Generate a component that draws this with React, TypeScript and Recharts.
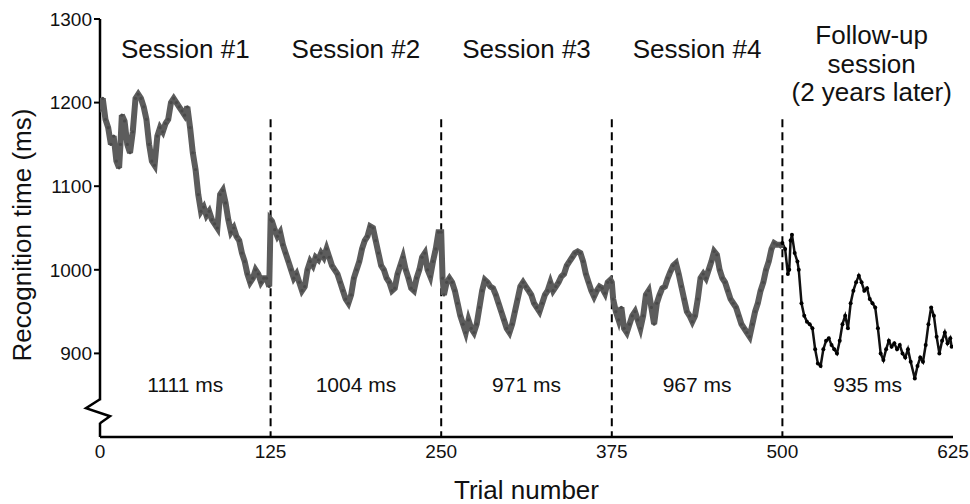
import React from 'react';
import { LineChart, Line, XAxis, YAxis, ReferenceLine, ReferenceDot } from 'recharts';

const FONT = '"Liberation Sans", Arial, Helvetica, sans-serif';

// Sessions 1-4 (trials 0-500)
const mainTrials = [
  0, 2, 4, 6, 8, 10, 12, 14, 15, 16, 18, 20, 22, 24, 26, 28, 30, 32, 34, 36, 38, 40, 42, 44, 46, 48, 50, 52, 54, 56, 58, 60, 62, 64, 66, 68, 70, 72, 74, 76, 78, 80, 82, 84, 86, 88, 90, 92, 94, 96, 98, 100, 102, 104, 106, 108, 110, 112, 114, 116, 118, 120, 122, 124, 125,
  126, 128, 130, 132, 134, 136, 138, 140, 142, 144, 146, 148, 150, 152, 154, 156, 158, 160, 162, 164, 166, 168, 170, 172, 174, 176, 178, 180, 182, 184, 186, 188, 190, 192, 194, 196, 198, 200, 202, 204, 206, 208, 210, 212, 214, 216, 218, 220, 222, 224, 226, 228, 230, 232, 234, 236, 238, 240, 242, 244, 246, 248, 250,
  251, 252, 254, 256, 258, 260, 262, 264, 266, 268, 270, 272, 274, 276, 278, 280, 282, 284, 286, 288, 290, 292, 294, 296, 298, 300, 302, 304, 306, 308, 310, 312, 314, 316, 318, 320, 322, 324, 326, 328, 330, 332, 334, 336, 338, 340, 342, 344, 346, 348, 350, 352, 354, 356, 358, 360, 362, 364, 366, 368, 370, 372, 374,
  375, 376, 378, 380, 382, 384, 386, 388, 390, 392, 394, 396, 398, 400, 402, 404, 406, 408, 410, 412, 414, 416, 418, 420, 422, 424, 426, 428, 430, 432, 434, 436, 438, 440, 442, 444, 446, 448, 450, 452, 454, 456, 458, 460, 462, 464, 466, 468, 470, 472, 474, 476, 478, 480, 482, 484, 486, 488, 490, 492, 494, 496, 498, 500,
];
const mainValues = [
  1190, 1205, 1180, 1170, 1150, 1160, 1130, 1122, 1150, 1185, 1178, 1150, 1140, 1165, 1205, 1210, 1205, 1195, 1180, 1150, 1130, 1125, 1160, 1170, 1165, 1175, 1180, 1200, 1205, 1200, 1195, 1190, 1185, 1195, 1170, 1140, 1120, 1090, 1070, 1075, 1065, 1070, 1060, 1055, 1050, 1090, 1095, 1080, 1060, 1045, 1050, 1040, 1035, 1020, 1010, 995, 985, 990, 1000, 995, 985, 990, 990, 980, 1060,
  1058, 1048, 1040, 1045, 1030, 1020, 1010, 1000, 990, 995, 985, 975, 980, 1000, 1010, 1005, 1015, 1012, 1020, 1015, 1025, 1015, 1005, 1000, 995, 985, 975, 965, 960, 970, 990, 1000, 1010, 1025, 1035, 1040, 1052, 1050, 1035, 1020, 1005, 1000, 990, 985, 975, 978, 995, 1005, 1015, 1000, 990, 978, 975, 990, 1000, 1015, 1020, 1000, 992, 1010, 1025, 1045, 1045,
  990, 970, 985, 990, 985, 975, 960, 945, 935, 925, 940, 930, 925, 935, 955, 975, 988, 985, 980, 978, 970, 960, 950, 940, 930, 925, 935, 950, 965, 980, 985, 980, 975, 970, 960, 955, 950, 960, 970, 975, 985, 975, 980, 985, 992, 995, 1005, 1010, 1015, 1020, 1022, 1020, 1010, 995, 985, 975, 968, 975, 980, 978, 972, 985, 988,
  985, 965, 950, 940, 955, 930, 925, 935, 945, 950, 940, 930, 945, 970, 975, 955, 935, 960, 970, 978, 980, 990, 998, 1005, 1008, 995, 980, 965, 950, 945, 938, 945, 965, 990, 995, 990, 1000, 1010, 1022, 1018, 1000, 990, 985, 975, 965, 960, 955, 945, 935, 930, 925, 920, 935, 950, 960, 975, 985, 1000, 1010, 1025, 1032, 1030, 1030, 1028,
];

// Follow-up session (trials 500-625)
const followTrials = [
  500, 502, 504, 505, 506, 507, 509, 511, 512, 514, 516, 518, 520, 522, 524, 526, 528, 530, 532, 534, 536, 538, 540, 542, 544, 546, 548, 550, 552, 554, 556, 558, 560, 562, 564, 566, 568, 570, 572, 574, 576, 578, 580, 582, 584, 586, 588, 590, 592, 594, 597, 599, 601, 603, 605, 607, 609, 611, 613, 615, 617, 619, 621, 623, 624,
];
const followValues = [
  1032, 1025, 995, 1000, 1035, 1042, 1020, 1010, 1000, 960, 945, 938, 935, 930, 905, 888, 885, 905, 915, 918, 910, 905, 900, 915, 935, 945, 930, 960, 975, 985, 993, 985, 975, 978, 965, 960, 955, 930, 900, 892, 905, 915, 908, 912, 905, 910, 900, 895, 905, 890, 870, 885, 895, 890, 910, 935, 955, 945, 920, 900, 915, 925, 912, 918, 908,
];

const xTicks = [0, 125, 250, 375, 500, 625];
const yTicks = [900, 1000, 1100, 1200, 1300];
const sessionBounds = [125, 250, 375, 500];
const sessionCenters = [62.5, 187.5, 312.5, 437.5, 562.5];
const sessionNames = ['Session #1', 'Session #2', 'Session #3', 'Session #4'];
const sessionMeans = ['1111 ms', '1004 ms', '971 ms', '967 ms', '935 ms'];
const followUpLines = ['Follow-up', 'session', '(2 years later)'];

const mainData = mainTrials.map((t, i) => ({ trial: t, rt: mainValues[i] }));
const followData = followTrials.map((t, i) => ({ trial: t, rt: followValues[i] }));

const SESSION_LABEL_Y = 1253;
const FOLLOW_LABEL_Y = 1270;
const MEAN_LABEL_Y = 854;
const DASH_TOP = 1180;
const BREAK_Y = 832;

export default function App() {
  return (
    <div style={{ position: 'absolute', left: 0, top: 0, width: 970, height: 504, background: '#fff' }}>
      <LineChart
        width={970}
        height={504}
        margin={{ top: 19, right: 17, bottom: 0, left: 0 }}
        style={{ fontFamily: FONT }}
      >
        <XAxis
          type="number"
          dataKey="trial"
          domain={[0, 625]}
          ticks={xTicks}
          allowDataOverflow
          height={67}
          axisLine={{ stroke: '#000', strokeWidth: 2.5 }}
          tickLine={false}
          tickSize={6}
          tickMargin={2}
          tick={{ fill: '#111', fontSize: 19, fontFamily: FONT }}
          label={{
            content: (p: any) => {
              const vb = p.viewBox || {};
              return (
                <text x={vb.x + vb.width / 2} y={499} textAnchor="middle" fontSize={26} fill="#111" fontFamily={FONT}>
                  Trial number
                </text>
              );
            },
          }}
        />
        <YAxis
          type="number"
          domain={[800, 1300]}
          ticks={yTicks}
          width={100}
          allowDataOverflow
          axisLine={false}
          tickLine={{ stroke: '#000', strokeWidth: 2 }}
          tickSize={6}
          tickMargin={2}
          tick={{ fill: '#111', fontSize: 19, fontFamily: FONT }}
          label={{
            content: () => (
              <text
                x={31}
                y={235}
                transform="rotate(-90, 31, 235)"
                textAnchor="middle"
                fontSize={26}
                fill="#111"
                fontFamily={FONT}
              >
                Recognition time (ms)
              </text>
            ),
          }}
        />
        <ReferenceLine
          segment={[{ x: 0, y: 1300 }, { x: 0, y: 844 }]}
          stroke="#000"
          strokeWidth={2.5}
          ifOverflow="visible"
        />
        <ReferenceLine
          segment={[{ x: 0, y: 817 }, { x: 0, y: 800 }]}
          stroke="#000"
          strokeWidth={2.5}
          ifOverflow="visible"
        />
        <ReferenceDot
          x={0}
          y={BREAK_Y}
          ifOverflow="visible"
          shape={(p: any) => (
            <polyline
              points={`${p.cx},${p.cy - 11} ${p.cx - 14},${p.cy - 2} ${p.cx + 10},${p.cy + 6} ${p.cx},${p.cy + 13}`}
              fill="none"
              stroke="#000"
              strokeWidth={2.5}
              strokeLinejoin="miter"
            />
          )}
        />
        {sessionBounds.map((b) => (
          <ReferenceLine
            key={b}
            segment={[{ x: b, y: DASH_TOP }, { x: b, y: 800 }]}
            stroke="#000"
            strokeWidth={2}
            strokeDasharray="8 5"
          />
        ))}
        {sessionNames.map((name, i) => (
          <ReferenceDot
            key={name}
            x={sessionCenters[i]}
            y={SESSION_LABEL_Y}
            ifOverflow="visible"
            shape={(p: any) => (
              <text x={p.cx} y={p.cy} textAnchor="middle" fontSize={26} fill="#111" fontFamily={FONT}>
                {name}
              </text>
            )}
          />
        ))}
        <ReferenceDot
          x={sessionCenters[4]}
          y={FOLLOW_LABEL_Y}
          ifOverflow="visible"
          shape={(p: any) => (
            <text x={p.cx + 4} y={p.cy} textAnchor="middle" fontSize={26} fill="#111" fontFamily={FONT}>
              {followUpLines.map((l, i) => (
                <tspan key={l} x={p.cx + 4} dy={i === 0 ? 0 : 28.5}>
                  {l}
                </tspan>
              ))}
            </text>
          )}
        />
        {sessionMeans.map((m, i) => (
          <ReferenceDot
            key={m}
            x={sessionCenters[i]}
            y={MEAN_LABEL_Y}
            ifOverflow="visible"
            shape={(p: any) => (
              <text x={p.cx} y={p.cy} textAnchor="middle" fontSize={21} fill="#111" fontFamily={FONT}>
                {m}
              </text>
            )}
          />
        ))}
        <Line
          data={mainData}
          dataKey="rt"
          type="linear"
          stroke="#5c5c5c"
          strokeWidth={6}
          strokeLinejoin="miter"
          dot={{ r: 1.6, fill: '#4a4a4a', stroke: 'none' }}
          isAnimationActive={false}
        />
        <Line
          data={followData}
          dataKey="rt"
          type="linear"
          stroke="#111"
          strokeWidth={2.5}
          dot={{ r: 2, fill: '#000', stroke: 'none' }}
          isAnimationActive={false}
        />
      </LineChart>
    </div>
  );
}
